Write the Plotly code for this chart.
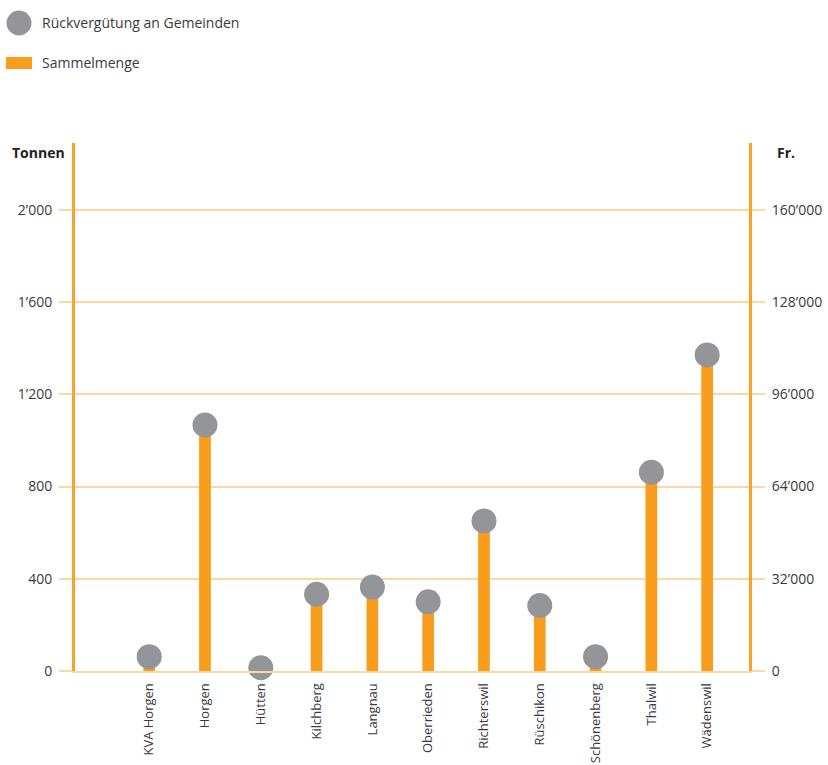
import plotly.graph_objects as go

# Sammelmenge (Tonnen) und Rückvergütung (Fr.) je Gemeinde
gemeinden = ["KVA Horgen", "Horgen", "Hütten", "Kilchberg", "Langnau", "Oberrieden",
             "Richterswil", "Rüschikon", "Schönenberg", "Thalwil", "Wädenswil"]
sammelmenge_t = [62, 1067, 14, 333, 364, 300, 651, 284, 62, 862, 1371]
rueckverguetung_fr = [4960, 85360, 1120, 26640, 29120, 24000, 52080, 22720, 4960, 68960, 109680]

tonnen_ticks = [0, 400, 800, 1200, 1600, 2000]
franken_ticks = [0, 32000, 64000, 96000, 128000, 160000]

ORANGE = "#F89D1C"
AXIS_ORANGE = "#F7A327"
GRID = "#FDD8A4"
GREY = "#939598"
TEXT = "#3a3a3a"
FONT = "Open Sans"

W, H = 828, 765
L, R, T, B = 75, 79, 143, 94
pw, ph = W - L - R, H - T - B


def px(x):
    return (x - L) / pw


def py(y):
    return (H - B - y) / ph


fig = go.Figure()

fig.add_trace(go.Bar(
    x=gemeinden, y=sammelmenge_t, name="Sammelmenge",
    marker=dict(color=ORANGE, line=dict(width=0)), width=0.21,
    yaxis="y", showlegend=False,
))
fig.add_trace(go.Scatter(
    x=gemeinden, y=rueckverguetung_fr, name="Rückvergütung an Gemeinden",
    mode="markers", marker=dict(color=GREY, size=25, line=dict(width=0)),
    yaxis="y2", cliponaxis=False, showlegend=False,
))

tmax = 2290
fig.update_layout(
    width=W, height=H,
    margin=dict(l=L, r=R, t=T, b=B),
    paper_bgcolor="white", plot_bgcolor="white",
    font=dict(family=FONT, size=14, color=TEXT),
    separators=".’",
    xaxis=dict(
        type="category", range=[-1.33, 10.75], automargin=False,
        showgrid=False, zeroline=False,
        showline=True, linecolor=GRID, linewidth=2,
        ticks="", tickangle=-90, tickfont=dict(size=13, color=TEXT),
        ticklabelstandoff=5,
    ),
    yaxis=dict(
        range=[0, tmax], tickvals=tonnen_ticks, tickformat=",d", automargin=False,
        showgrid=True, gridcolor=GRID, gridwidth=1.5, zeroline=False,
        showline=True, linecolor=AXIS_ORANGE, linewidth=3,
        ticks="outside", ticklen=13, tickcolor=GRID, tickwidth=1.5,
        tickfont=dict(size=14, color=TEXT), ticklabelstandoff=4,
    ),
    yaxis2=dict(
        range=[0, tmax * 80], tickvals=franken_ticks, tickformat=",d", automargin=False,
        overlaying="y", side="right", showgrid=False, zeroline=False,
        showline=True, linecolor=AXIS_ORANGE, linewidth=3,
        ticks="outside", ticklen=13, tickcolor=GRID, tickwidth=1.5,
        tickfont=dict(size=14, color=TEXT), ticklabelstandoff=4,
    ),
    shapes=[
        dict(type="circle", xref="paper", yref="paper",
             x0=px(6.5), x1=px(31.5), y0=py(35.5), y1=py(10.5),
             fillcolor=GREY, line=dict(width=0)),
        dict(type="rect", xref="paper", yref="paper",
             x0=px(6), x1=px(32), y0=py(69), y1=py(57),
             fillcolor=ORANGE, line=dict(width=0)),
    ],
    annotations=[
        dict(text="Rückvergütung an Gemeinden", xref="paper", yref="paper",
             x=px(40), y=py(23), xanchor="left", yanchor="middle",
             showarrow=False, font=dict(size=14, color=TEXT)),
        dict(text="Sammelmenge", xref="paper", yref="paper",
             x=px(40), y=py(63), xanchor="left", yanchor="middle",
             showarrow=False, font=dict(size=14, color=TEXT)),
        dict(text="<b>Tonnen</b>", xref="paper", yref="paper",
             x=px(10), y=py(152), xanchor="left", yanchor="middle",
             showarrow=False, font=dict(size=14, color="#222")),
        dict(text="<b>Fr.</b>", xref="paper", yref="paper",
             x=px(775), y=py(152), xanchor="left", yanchor="middle",
             showarrow=False, font=dict(size=14, color="#222")),
    ],
)

fig.write_html("out.html")
